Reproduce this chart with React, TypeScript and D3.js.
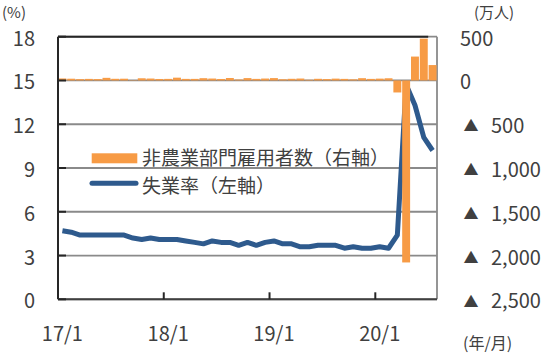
import React from "react";
import * as d3 from "d3";

const width = 550,
  height = 355;
const plot = { left: 58, right: 437, top: 36.7, bottom: 299.3 };

// 2017/1 .. 2020/7
const years = [2017, 2018, 2019, 2020];
const monthsInYear = [12, 12, 12, 7];
const months: string[] = [];
years.forEach((y, yi) => {
  for (let m = 1; m <= monthsInYear[yi]; m++) months.push(`${y}/${m}`);
});

// 失業率 (%)
const unemployment = [
  4.7, 4.6, 4.4, 4.4, 4.4, 4.4, 4.4, 4.4, 4.2, 4.1, 4.2, 4.1,
  4.1, 4.1, 4.0, 3.9, 3.8, 4.0, 3.9, 3.9, 3.7, 3.9, 3.7, 3.9,
  4.0, 3.8, 3.8, 3.6, 3.6, 3.7, 3.7, 3.7, 3.5, 3.6, 3.5, 3.5,
  3.6, 3.5, 4.4, 14.7, 13.3, 11.1, 10.2,
];

// 非農業部門雇用者数 前月差 (万人)
const payrolls = [
  23, 20, 15, 18, 16, 30, 19, 20, 4, 25, 22, 17,
  18, 32, 18, 18, 26, 22, 17, 28, 11, 27, 18, 22,
  27, 14, 19, 22, 8, 19, 16, 21, 18, 13, 26, 18,
  21, 25, -137, -2079, 273, 478, 176,
];

const leftTicks = [0, 3, 6, 9, 12, 15, 18];
const rightTicks = [500, 0, -500, -1000, -1500, -2000, -2500];
const xTickMonths = ["2017/1", "2018/1", "2019/1", "2020/1"];
const xTickLabels = ["17/1", "18/1", "19/1", "20/1"];

const font = "'Noto Sans CJK JP', 'Noto Sans', sans-serif";
const textColor = "#404040";
const orange = "#F79B45";
const blue = "#2E5A8D";

const App = () => {
  const x = d3.scaleBand().domain(months).range([plot.left, plot.right]);
  const yL = d3.scaleLinear().domain([0, 18]).range([plot.bottom, plot.top]);
  const yR = d3.scaleLinear().domain([-2500, 500]).range([plot.bottom, plot.top]);
  const bw = x.bandwidth();
  const cx = (m: string) => (x(m) as number) + bw / 2;

  const linePath = d3
    .line<number>()
    .x((d, i) => cx(months[i]))
    .y((d) => yL(d))(unemployment);

  const fmt = d3.format(",");

  return (
    <svg
      width={width}
      height={height}
      style={{ position: "absolute", left: 0, top: 0, fontFamily: font }}
    >
      <rect width={width} height={height} fill="#fff" />

      {/* gridlines */}
      {leftTicks.map((t) => (
        <line key={t} x1={plot.left} x2={plot.right} y1={yL(t)} y2={yL(t)} stroke="#8a8a8a" strokeWidth={1.8} />
      ))}
      <line x1={plot.right} x2={plot.right} y1={plot.top} y2={plot.bottom} stroke="#8a8a8a" strokeWidth={1.8} />
      <line x1={plot.left} x2={plot.right - bw} y1={plot.top} y2={plot.top} stroke="#262626" strokeWidth={2} />

      {/* unemployment line */}
      <path d={linePath as string} fill="none" stroke={blue} strokeWidth={5} strokeLinejoin="round" />

      {/* payroll bars */}
      {payrolls.map((v, i) => {
        const y0 = yR(0);
        const y1 = yR(v);
        return (
          <rect
            key={i}
            x={(x(months[i]) as number) + bw * 0.05}
            width={bw * 0.9}
            y={Math.min(y0, y1)}
            height={Math.abs(y1 - y0)}
            fill={orange}
          />
        );
      })}

      {/* axes */}
      <line x1={plot.left} x2={plot.left} y1={plot.top} y2={plot.bottom} stroke="#262626" strokeWidth={2} />
      <line x1={plot.left} x2={plot.right} y1={plot.bottom} y2={plot.bottom} stroke="#404040" strokeWidth={2} />
      {leftTicks.map((t) => (
        <line key={t} x1={plot.left} x2={plot.left + 8} y1={yL(t)} y2={yL(t)} stroke="#262626" strokeWidth={2} />
      ))}
      {xTickMonths.slice(1).map((m) => (
        <line key={m} x1={x(m)} x2={x(m)} y1={plot.bottom} y2={plot.bottom - 7} stroke="#262626" strokeWidth={2} />
      ))}

      {/* left labels */}
      {leftTicks.map((t) => (
        <text key={t} x={35} y={yL(t) + 2} dy="0.35em" textAnchor="end" fontSize={20} fill={textColor}>
          {t}
        </text>
      ))}
      <text x={2} y={17.5} fontSize={15} fill={textColor}>(%)</text>

      {/* right labels */}
      {rightTicks.map((t) =>
        t >= 0 ? (
          <text key={t} x={460} y={yR(t) + 2} dy="0.35em" fontSize={20} fill={textColor}>
            {fmt(t)}
          </text>
        ) : (
          <g key={t}>
            <text x={471} y={yR(t) + 2} dy="0.35em" textAnchor="middle" fontSize={15} fill={textColor}>
              ▲
            </text>
            <text x={491} y={yR(t) + 2} dy="0.35em" fontSize={20} fill={textColor}>
              {fmt(-t)}
            </text>
          </g>
        )
      )}
      <text x={474} y={17.5} fontSize={15} fill={textColor}>(万人)</text>

      {/* x labels */}
      {xTickMonths.map((m, i) => (
        <text key={m} x={cx(m)} y={341} textAnchor="middle" fontSize={20} fill={textColor}>
          {xTickLabels[i]}
        </text>
      ))}
      <text x={463} y={349} fontSize={16} fill={textColor}>(年/月)</text>

      {/* legend */}
      <rect x={91.7} y={153.3} width={45.6} height={10} fill={orange} />
      <text x={142} y={158} dy="0.35em" fontSize={19} fill={textColor}>
        非農業部門雇用者数（右軸）
      </text>
      <line x1={92} x2={136} y1={183.3} y2={183.3} stroke={blue} strokeWidth={5} strokeLinecap="round" />
      <text x={142} y={186} dy="0.35em" fontSize={19} fill={textColor}>
        失業率（左軸）
      </text>
    </svg>
  );
};

export default App;
